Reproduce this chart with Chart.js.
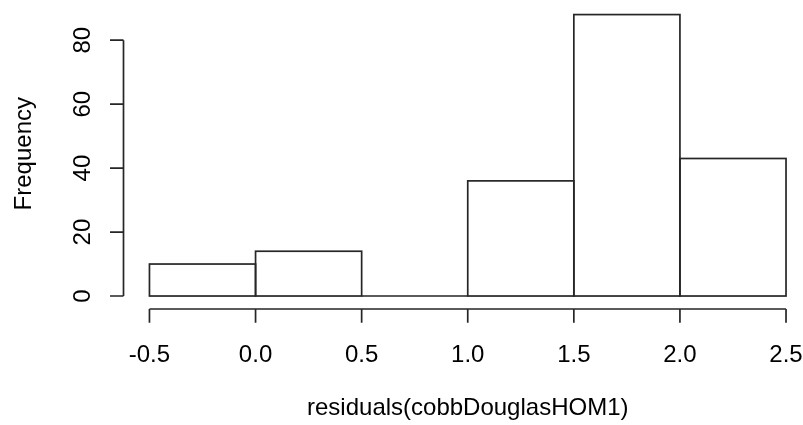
<!DOCTYPE html>
<html>
<head>
<meta charset="utf-8">
<script src="https://cdn.jsdelivr.net/npm/chart.js@4/dist/chart.umd.min.js"></script>
<style>
  html, body { margin: 0; padding: 0; background: #ffffff; }
  #wrap { width: 803px; height: 425px; }
</style>
</head>
<body>
<div id="wrap"><canvas id="c" width="803" height="425"></canvas></div>
<script>
// ---- data ----
const binEdges = [-0.5, 0.0, 0.5, 1.0, 1.5, 2.0, 2.5];
const binMids = [-0.25, 0.25, 0.75, 1.25, 1.75, 2.25];
const frequencies = [10, 14, 0, 36, 88, 43];
const xTickValues = [-0.5, 0.0, 0.5, 1.0, 1.5, 2.0, 2.5];
const xTickLabels = ['-0.5', '0.0', '0.5', '1.0', '1.5', '2.0', '2.5'];
const yTickValues = [0, 20, 40, 60, 80];
const yTickLabels = ['0', '20', '40', '60', '80'];
const xTitle = 'residuals(cobbDouglasHOM1)';
const yTitle = 'Frequency';

// ---- style ----
const FONT = '24px "Liberation Sans", Arial, sans-serif';
const LINE = '#262626';
const LW = 1.7;

const rAxesPlugin = {
  id: 'rAxes',
  afterDatasetsDraw(chart) {
    const ctx = chart.ctx;
    const meta = chart.getDatasetMeta(0);
    ctx.save();
    ctx.strokeStyle = LINE;
    ctx.lineWidth = LW;
    meta.data.forEach(el => {
      const p = el.getProps(['x', 'y', 'base', 'width'], true);
      ctx.strokeRect(p.x - p.width / 2, p.y, p.width, p.base - p.y);
    });
    ctx.restore();
  },
  afterDraw(chart) {
    const ctx = chart.ctx;
    const xs = chart.scales.x, ys = chart.scales.y;
    ctx.save();
    ctx.strokeStyle = LINE;
    ctx.lineWidth = LW;
    ctx.fillStyle = '#000000';
    ctx.font = FONT;

    // x axis (R style, below the plot)
    const xAxisY = 309;
    const xTickLen = 13.7;
    const x0 = xs.getPixelForValue(xTickValues[0]);
    const x1 = xs.getPixelForValue(xTickValues[xTickValues.length - 1]);
    ctx.beginPath();
    ctx.moveTo(x0, xAxisY); ctx.lineTo(x1, xAxisY);
    xTickValues.forEach(v => {
      const px = xs.getPixelForValue(v);
      ctx.moveTo(px, xAxisY); ctx.lineTo(px, xAxisY + xTickLen);
    });
    ctx.stroke();
    ctx.textAlign = 'center';
    ctx.textBaseline = 'alphabetic';
    xTickValues.forEach((v, i) => {
      ctx.fillText(xTickLabels[i], xs.getPixelForValue(v), 361.5);
    });

    // y axis
    const yAxisX = 123.5;
    const yTickLen = 13.5;
    const yA = ys.getPixelForValue(yTickValues[0]);
    const yB = ys.getPixelForValue(yTickValues[yTickValues.length - 1]);
    ctx.beginPath();
    ctx.moveTo(yAxisX, yA); ctx.lineTo(yAxisX, yB);
    yTickValues.forEach(v => {
      const py = ys.getPixelForValue(v);
      ctx.moveTo(yAxisX, py); ctx.lineTo(yAxisX - yTickLen, py);
    });
    ctx.stroke();
    yTickValues.forEach((v, i) => {
      const py = ys.getPixelForValue(v);
      ctx.save();
      ctx.translate(90, py);
      ctx.rotate(-Math.PI / 2);
      ctx.textAlign = 'center';
      ctx.textBaseline = 'alphabetic';
      ctx.fillText(yTickLabels[i], 0, 0);
      ctx.restore();
    });

    // axis titles
    ctx.textAlign = 'center';
    ctx.textBaseline = 'alphabetic';
    const cx = (chart.chartArea.left + xs.getPixelForValue(2.62)) / 2;
    ctx.fillText(xTitle, cx, 415);
    ctx.save();
    ctx.translate(31, (chart.chartArea.top + chart.chartArea.bottom) / 2);
    ctx.rotate(-Math.PI / 2);
    ctx.fillText(yTitle, 0, 0);
    ctx.restore();

    ctx.restore();
  }
};

new Chart(document.getElementById('c'), {
  type: 'bar',
  data: {
    datasets: [{
      label: yTitle,
      data: binMids.map((m, i) => ({ x: m, y: frequencies[i] })),
      backgroundColor: 'rgba(0,0,0,0)',
      borderWidth: 0,
      barPercentage: 1.0,
      categoryPercentage: 1.0
    }]
  },
  options: {
    responsive: false,
    animation: false,
    devicePixelRatio: 1,
    layout: { padding: { left: 124, top: 0, right: 0, bottom: 117.6 } },
    plugins: { legend: { display: false }, tooltip: { enabled: false } },
    scales: {
      x: { type: 'linear', min: -0.62, max: 2.58, offset: false, display: false },
      y: { type: 'linear', min: -3.56, max: 92.56, display: false }
    }
  },
  plugins: [rAxesPlugin]
});
</script>
</body>
</html>
